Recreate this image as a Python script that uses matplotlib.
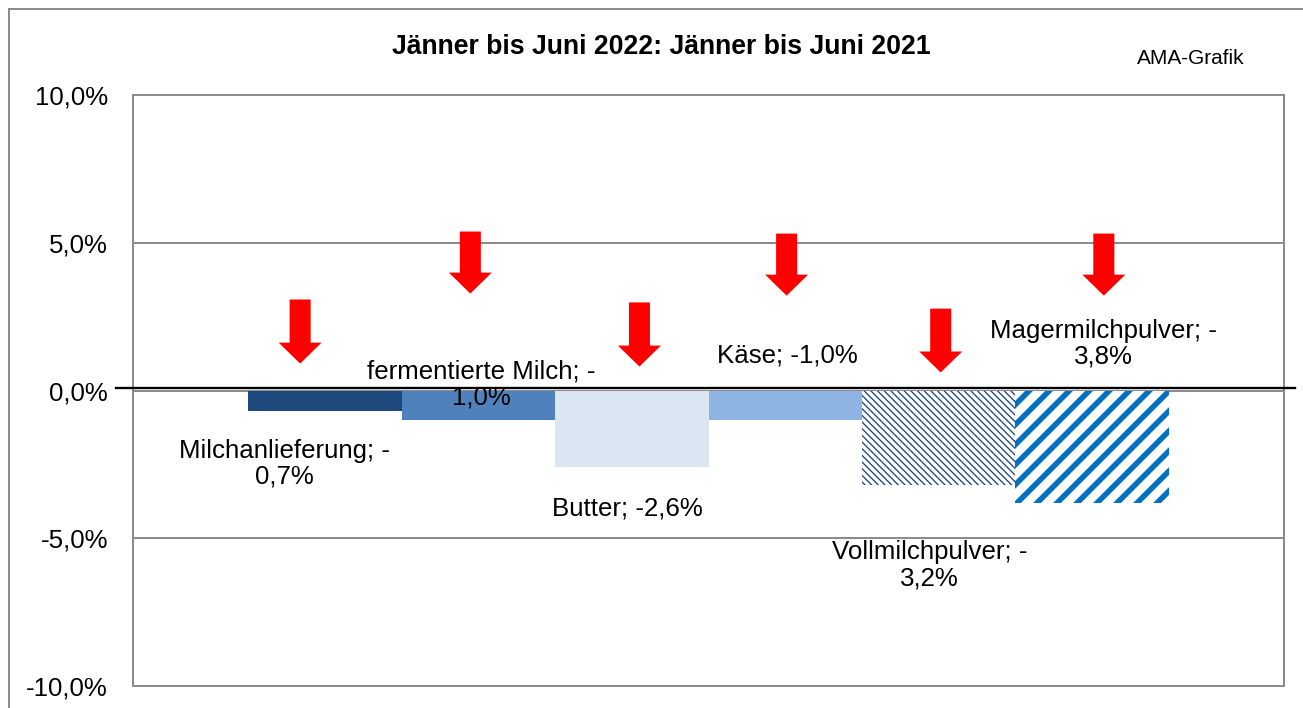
import matplotlib
matplotlib.use("Agg")
import matplotlib.pyplot as plt
from matplotlib.lines import Line2D

# ---- data ----
categories = ["Milchanlieferung", "fermentierte Milch", "Butter", "Käse",
              "Vollmilchpulver", "Magermilchpulver"]
values = [-0.7, -1.0, -2.6, -1.0, -3.2, -3.8]
label_texts = ["Milchanlieferung; -\n0,7%", "fermentierte Milch; -\n1,0%",
               "Butter; -2,6%", "Käse; -1,0%",
               "Vollmilchpulver; -\n3,2%", "Magermilchpulver; -\n3,8%"]
yticks = [-10, -5, 0, 5, 10]
title = "Jänner bis Juni 2022: Jänner bis Juni 2021"
source = "AMA-Grafik"

# ---- styles / placement ----
colors = ["#1F497D", "#4F81BD", "#DCE6F2", "#8DB4E2", "white", "white"]
hatch_colors = [None, None, None, None, "#1F497D", "#0070C0"]
hatches = [None, None, None, None, "\\\\\\\\\\\\", "//"]
hatch_lw = [None, None, None, None, 0.8, 3.3]
label_pos = [(-0.265, -2.47), (1.02, 0.2), (1.97, -3.99), (3.015, 1.18),
             (3.94, -5.92), (5.076, 1.59)]
arrow_pos = [(-0.161, 3.08, 0.91), (0.948, 5.38, 3.28), (2.05, 2.98, 0.81),
             (3.009, 5.31, 3.21), (4.013, 2.77, 0.61), (5.076, 5.31, 3.21)]

plt.rcParams['font.family'] = ['Liberation Sans', 'DejaVu Sans']

DPI = 120
fig = plt.figure(figsize=(1303 / DPI, 708 / DPI), dpi=DPI)
fig.patch.set_facecolor("white")
ax = fig.add_axes([133 / 1303, 1 - 686 / 708, (1284 - 133) / 1303, (686 - 95) / 708])

x = list(range(len(categories)))
bars = ax.bar(x, values, width=1.0, color=colors, linewidth=0, zorder=3)
for b, hc, h, hl in zip(bars, hatch_colors, hatches, hatch_lw):
    if h:
        b.set_hatch(h)
        b.set_edgecolor(hc)
        b.set_linewidth(0)
        try:
            b.set_hatch_linewidth(hl)
        except Exception:
            pass

ax.set_xlim(-1.25, len(categories) + 0.25)
ax.set_ylim(-10, 10)
ax.set_yticks(yticks)
ax.set_yticklabels([("%.1f%%" % v).replace(".", ",") for v in yticks], fontsize=15.5)
ax.set_xticks([])
ax.tick_params(axis='y', length=0, pad=15)
ax.grid(axis='y', color="#8C8C8C", linewidth=1.2, zorder=1)
for s in ax.spines.values():
    s.set_color("#8C8C8C")
    s.set_linewidth(1.2)

# black line drawn just above the zero gridline, extending beyond plot area
ax.axhline(0.1, xmin=-0.015, xmax=1.0096, color="black", linewidth=1.4,
           clip_on=False, zorder=4)

# arrows
for ax_x, top, tip in arrow_pos:
    ax.arrow(ax_x, top, 0, tip - top, width=0.137, head_width=0.28,
             head_length=0.71, length_includes_head=True,
             color="#FF0000", linewidth=0, zorder=5)

# data labels
for (lx, ly), t in zip(label_pos, label_texts):
    ax.text(lx, ly, t, ha="center", va="center", multialignment="center",
            fontsize=15.5, linespacing=1.1, zorder=6)

fig.text(661 / 1303, 1 - 47 / 708, title, ha="center", va="center",
         fontsize=16, fontweight="bold")
fig.text(1191 / 1303, 1 - 58 / 708, source, ha="center", va="center", fontsize=12.5)

# outer chart frame (left & top edges)
fig.add_artist(Line2D([9 / 1303, 9 / 1303], [0, 1 - 9 / 708], transform=fig.transFigure,
                      color="#8C8C8C", linewidth=1.2))
fig.add_artist(Line2D([9 / 1303, 1], [1 - 9 / 708, 1 - 9 / 708], transform=fig.transFigure,
                      color="#8C8C8C", linewidth=1.2))

fig.savefig("out.png", dpi=DPI)
